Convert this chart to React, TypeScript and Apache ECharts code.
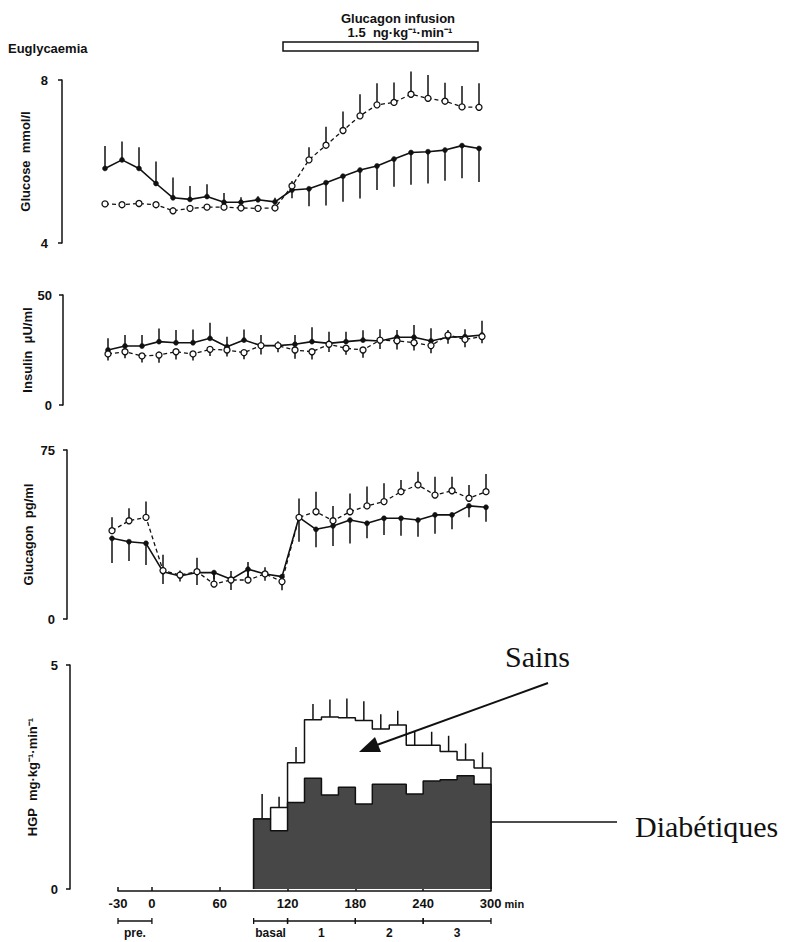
import { useEffect, useRef } from "react";
import * as echarts from "echarts";

const F = "'Liberation Sans', Arial, sans-serif";
const SERIF = "'Liberation Serif', 'Times New Roman', serif";

// sampling times (min)
const times = [-30, -15, 0, 15, 30, 45, 60, 75, 90, 105, 120, 135, 150, 165, 180, 195, 210, 225, 240, 255, 270, 285, 300];

// Glucose mmol/l (solid = filled circles, open = open circles dashed)
const glucoseSolid = [5.83, 6.04, 5.83, 5.46, 5.11, 5.07, 5.14, 5.0, 5.0, 5.06, 5.01, 5.3, 5.33, 5.48, 5.64, 5.79, 5.89, 6.06, 6.22, 6.24, 6.28, 6.39, 6.32];
const glucoseSolidErr = [0.55, 0.45, 0.52, 0.54, 0.5, 0.33, 0.3, 0.23, 0.12, 0.09, 0.1, -0.2, -0.43, -0.56, -0.63, -0.7, -0.59, -0.68, -0.79, -0.78, -0.75, -0.8, -0.82];
const glucoseOpen = [4.96, 4.94, 4.97, 4.94, 4.79, 4.85, 4.88, 4.88, 4.86, 4.85, 4.86, 5.4, 6.04, 6.4, 6.76, 7.12, 7.39, 7.45, 7.65, 7.55, 7.48, 7.34, 7.33];
const glucoseOpenErr = [-0.07, -0.07, -0.07, -0.07, -0.05, -0.04, -0.04, -0.04, -0.04, -0.04, -0.04, 0.12, 0.31, 0.45, 0.47, 0.53, 0.53, 0.49, 0.56, 0.57, 0.45, 0.51, 0.59];

// Insulin µU/ml
const insulinSolid = [25.0, 26.8, 26.8, 28.8, 28.3, 28.3, 30.3, 26.5, 29.5, 27.0, 27.0, 27.6, 28.8, 28.0, 28.8, 29.5, 29.1, 30.8, 30.8, 29.1, 30.8, 31.1, 31.8];
const insulinSolidErr = [5.3, 5, 5, 6, 5.8, 6, 7.1, 4.5, 4.8, 4.8, 2, 4.2, 6.5, 5.3, 4.5, 4.5, 5.3, 3.3, 5.6, 5.8, 3.3, 3.3, 6.5];
const insulinOpen = [23.2, 24.2, 22.3, 22.7, 24.2, 23.2, 25.3, 25.0, 23.8, 27.0, 27.0, 25.0, 24.2, 27.6, 25.8, 25.0, 29.5, 29.2, 28.3, 27.0, 31.8, 29.8, 31.1];
const insulinOpenErr = [-3, -3, -3, -3.5, -3.5, -3, -3, -3, -3, -4, -3, -4, -3.5, -3.5, -3, -3.5, -4, -4, -3.5, -3.5, -4, -3.5, -3];

// Glucagon pg/ml
const glucagonSolid = [35.8, 34.3, 33.6, 21.0, 19.1, 20.6, 20.6, 17.6, 22.1, 20.0, 18.8, 45.1, 39.8, 41.3, 43.9, 42.5, 44.7, 44.7, 43.9, 46.2, 46.2, 50.2, 49.6];
const glucagonSolidErr = [-11, -8.6, -9.6, -5.5, -2.5, -5.5, -3, -4.7, -5, -3, -6, -10.8, -8, -8.9, -10.4, -6.7, -7.4, -7.8, -7.4, -8.4, -6.4, -5, -6.4];
const glucagonOpen = [39.2, 43.6, 45.1, 21.5, 19.5, 21.0, 15.5, 17.3, 17.3, 20.0, 16.6, 45.1, 47.6, 43.6, 47.6, 50.2, 52.1, 56.5, 59.5, 55.0, 56.9, 53.6, 56.5];
const glucagonOpenErr = [6, 5.5, 7, 7, 2, 6.2, 4, 4, 8, 3, 3, 8.4, 8.9, 6.5, 8.1, 8.6, 8.1, 5.2, 5.9, 8.1, 6.2, 5.9, 7.8];

// HGP mg·kg-1·min-1 (15-min bins)
const hgpBinStart = [90, 105, 120, 135, 150, 165, 180, 195, 210, 225, 240, 255, 270, 285];
const hgpBinWidth = 15;
const hgpDiabetiques = [1.56, 1.3, 1.93, 2.47, 2.1, 2.27, 1.9, 2.34, 2.34, 2.12, 2.41, 2.44, 2.53, 2.34];
const hgpSains = [1.56, 1.82, 2.82, 3.78, 3.84, 3.82, 3.76, 3.57, 3.66, 3.21, 3.21, 3.07, 2.88, 2.7];
const hgpSainsErr = [0.56, 0.24, 0.35, 0.35, 0.39, 0.43, 0.43, 0.33, 0.32, 0.3, 0.3, 0.35, 0.37, 0.35];

const xTicks = [-30, 0, 60, 120, 180, 240, 300];
const periodLabels = ["pre.", "basal", "1", "2", "3"];
const periodFrom = [-30, 90, 120, 180, 240];
const periodTo = [0, 120, 180, 240, 300];

const INK = "#111";

function stepData(vals: number[]) {
  const d: number[][] = [[hgpBinStart[0], 0]];
  hgpBinStart.forEach((t, i) => d.push([t, vals[i]]));
  const last = hgpBinStart[hgpBinStart.length - 1] + hgpBinWidth;
  d.push([last, vals[vals.length - 1]]);
  d.push([last, 0]);
  return d;
}

function errSeries(idx: number, data: number[][]) {
  return {
    type: "custom",
    xAxisIndex: idx,
    yAxisIndex: idx,
    silent: true,
    clip: false,
    z: 2,
    data,
    encode: { x: 0, y: 1 },
    renderItem: (_p: any, api: any) => {
      const t = api.value(0);
      const v = api.value(1);
      const e = api.value(2);
      const p1 = api.coord([t, v]);
      const p2 = api.coord([t, v + e]);
      return {
        type: "line",
        shape: { x1: p1[0], y1: p1[1], x2: p2[0], y2: p2[1] },
        style: { stroke: INK, lineWidth: 1.5 },
      };
    },
  };
}

function lineSeries(idx: number, vals: number[], open: boolean) {
  return {
    type: "line",
    xAxisIndex: idx,
    yAxisIndex: idx,
    silent: true,
    z: open ? 4 : 3,
    data: times.map((t, i) => [t, vals[i]]),
    symbol: "circle",
    symbolSize: open ? 6 : 5,
    lineStyle: open
      ? { color: INK, width: 1.3, type: [4, 3] }
      : { color: INK, width: 1.6 },
    itemStyle: open
      ? { color: "#fff", borderColor: INK, borderWidth: 1.3 }
      : { color: INK, borderColor: INK, borderWidth: 0.5 },
  };
}

function yAxis(idx: number, min: number, max: number, offset: number, name: string, nameGap: number, margin: number) {
  return {
    type: "value",
    gridIndex: idx,
    min,
    max,
    interval: max - min,
    offset,
    name,
    nameLocation: "middle",
    nameRotate: 90,
    nameGap,
    nameTextStyle: { fontFamily: F, fontSize: 13, fontWeight: "bold", color: INK },
    axisLine: { show: true, onZero: false, lineStyle: { color: INK, width: 1.5 } },
    axisTick: { show: true, length: 4, lineStyle: { color: INK, width: 1.5 } },
    axisLabel: { margin, fontFamily: F, fontSize: 13, fontWeight: "bold", color: INK },
    splitLine: { show: false },
  };
}

function hiddenX(idx: number) {
  return { type: "value", gridIndex: idx, min: -30, max: 300, show: false };
}

export default function App() {
  const ref = useRef<HTMLDivElement>(null);
  useEffect(() => {
    if (!ref.current) return;
    const chart = echarts.init(ref.current, null, { renderer: "svg" });
    const option: any = {
      animation: false,
      backgroundColor: "#fff",
      grid: [
        { left: 105, top: 80, width: 374, height: 163 },
        { left: 108, top: 295, width: 374, height: 110 },
        { left: 112, top: 450, width: 374, height: 169 },
        { left: 118, top: 665, width: 373, height: 224 },
      ],
      xAxis: [
        hiddenX(0),
        hiddenX(1),
        hiddenX(2),
        {
          type: "value",
          gridIndex: 3,
          min: -30,
          max: 300,
          offset: 2,
          axisLine: { show: true, onZero: false, lineStyle: { color: INK, width: 1.5 } },
          axisTick: { show: true, inside: true, length: 4, customValues: xTicks, lineStyle: { color: INK, width: 1.5 } },
          axisLabel: {
            customValues: xTicks,
            margin: 6,
            fontFamily: F,
            fontSize: 13,
            fontWeight: "bold",
            color: INK,
            formatter: (v: number) => (v === 300 ? "{p|}300{m| min}" : String(v)),
            rich: {
              p: { width: 22 },
              m: { fontFamily: F, fontSize: 11, fontWeight: "bold", color: INK },
            },
          },
          splitLine: { show: false },
        },
      ],
      yAxis: [
        yAxis(0, 4, 8, 43, "Glucose  mmol/l", 30, 14),
        yAxis(1, 0, 50, 45, "Insulin  μU/ml", 29, 11),
        yAxis(2, 0, 75, 45, "Glucagon  pg/ml", 32, 12),
        yAxis(3, 0, 5, 48, "HGP  mg·kg⁻¹·min⁻¹", 31, 12),
      ],
      series: [
        errSeries(0, times.map((t, i) => [t, glucoseSolid[i], glucoseSolidErr[i]])),
        errSeries(0, times.map((t, i) => [t, glucoseOpen[i], glucoseOpenErr[i]])),
        lineSeries(0, glucoseSolid, false),
        lineSeries(0, glucoseOpen, true),
        errSeries(1, times.map((t, i) => [t, insulinSolid[i], insulinSolidErr[i]])),
        errSeries(1, times.map((t, i) => [t, insulinOpen[i], insulinOpenErr[i]])),
        lineSeries(1, insulinSolid, false),
        lineSeries(1, insulinOpen, true),
        errSeries(2, times.map((t, i) => [t, glucagonSolid[i], glucagonSolidErr[i]])),
        errSeries(2, times.map((t, i) => [t, glucagonOpen[i], glucagonOpenErr[i]])),
        lineSeries(2, glucagonSolid, false),
        lineSeries(2, glucagonOpen, true),
        // HGP: healthy (Sains) white step area
        {
          type: "line",
          xAxisIndex: 3,
          yAxisIndex: 3,
          silent: true,
          step: "end",
          symbol: "none",
          z: 2,
          data: stepData(hgpSains),
          lineStyle: { color: INK, width: 1.5 },
          areaStyle: { color: "#fff", opacity: 1 },
        },
        {
          ...errSeries(3, hgpBinStart.map((t, i) => [t + hgpBinWidth / 2, hgpSains[i], hgpSainsErr[i]])),
          z: 1,
        },
        // HGP: diabetics dark step area
        {
          type: "line",
          xAxisIndex: 3,
          yAxisIndex: 3,
          silent: true,
          step: "end",
          symbol: "none",
          z: 3,
          data: stepData(hgpDiabetiques),
          lineStyle: { color: INK, width: 1.5 },
          areaStyle: { color: "#474747", opacity: 1 },
        },
        // period bars under x axis
        {
          type: "custom",
          xAxisIndex: 3,
          yAxisIndex: 3,
          silent: true,
          clip: false,
          data: periodFrom.map((f, i) => [f, periodTo[i]]),
          encode: { x: [0, 1] },
          renderItem: (params: any, api: any) => {
            const a = api.coord([api.value(0), 0]);
            const b = api.coord([api.value(1), 0]);
            const y = a[1] + 32;
            return {
              type: "group",
              children: [
                { type: "line", shape: { x1: a[0], y1: y, x2: b[0], y2: y }, style: { stroke: INK, lineWidth: 1.3 } },
                { type: "line", shape: { x1: a[0], y1: y - 3, x2: a[0], y2: y + 3 }, style: { stroke: INK, lineWidth: 1.3 } },
                { type: "line", shape: { x1: b[0], y1: y - 3, x2: b[0], y2: y + 3 }, style: { stroke: INK, lineWidth: 1.3 } },
                {
                  type: "text",
                  style: {
                    text: periodLabels[params.dataIndex],
                    x: (a[0] + b[0]) / 2,
                    y: y + 12,
                    align: "center",
                    verticalAlign: "middle",
                    fontFamily: F,
                    fontSize: 12,
                    fontWeight: "bold",
                    fill: INK,
                  },
                },
              ],
            };
          },
        },
      ],
      graphic: [
        { type: "text", z: 100, left: 8, top: 42, style: { text: "Euglycaemia", fontFamily: F, fontSize: 13, fontWeight: "bold", fill: INK } },
        { type: "text", z: 100, x: 398, y: 18, style: { text: "Glucagon infusion", align: "center", verticalAlign: "middle", fontFamily: F, fontSize: 13, fontWeight: "bold", fill: INK } },
        { type: "text", z: 100, x: 400, y: 32, style: { text: "1.5  ng·kg⁻¹·min⁻¹", align: "center", verticalAlign: "middle", fontFamily: F, fontSize: 13, fontWeight: "bold", fill: INK } },
        { type: "rect", z: 100, shape: { x: 283, y: 42, width: 195, height: 9 }, style: { fill: "#fff", stroke: INK, lineWidth: 1.5 } },
        { type: "text", z: 100, x: 505, y: 656, style: { text: "Sains", align: "left", verticalAlign: "middle", fontFamily: SERIF, fontSize: 30, fill: INK } },
        { type: "line", z: 100, shape: { x1: 548, y1: 683, x2: 374, y2: 746 }, style: { stroke: INK, lineWidth: 2 } },
        { type: "polygon", z: 100, shape: { points: [[359, 752], [381, 752], [375, 737]] }, style: { fill: INK } },
        { type: "line", z: 100, shape: { x1: 490, y1: 822, x2: 617, y2: 822 }, style: { stroke: INK, lineWidth: 1.5 } },
        { type: "text", z: 100, x: 635, y: 826, style: { text: "Diabétiques", align: "left", verticalAlign: "middle", fontFamily: SERIF, fontSize: 30, fill: INK } },
      ],
    };
    chart.setOption(option);
    return () => chart.dispose();
  }, []);
  return (
    <div
      ref={ref}
      style={{ position: "absolute", left: 0, top: 0, width: 791, height: 942, background: "#fff" }}
    />
  );
}
